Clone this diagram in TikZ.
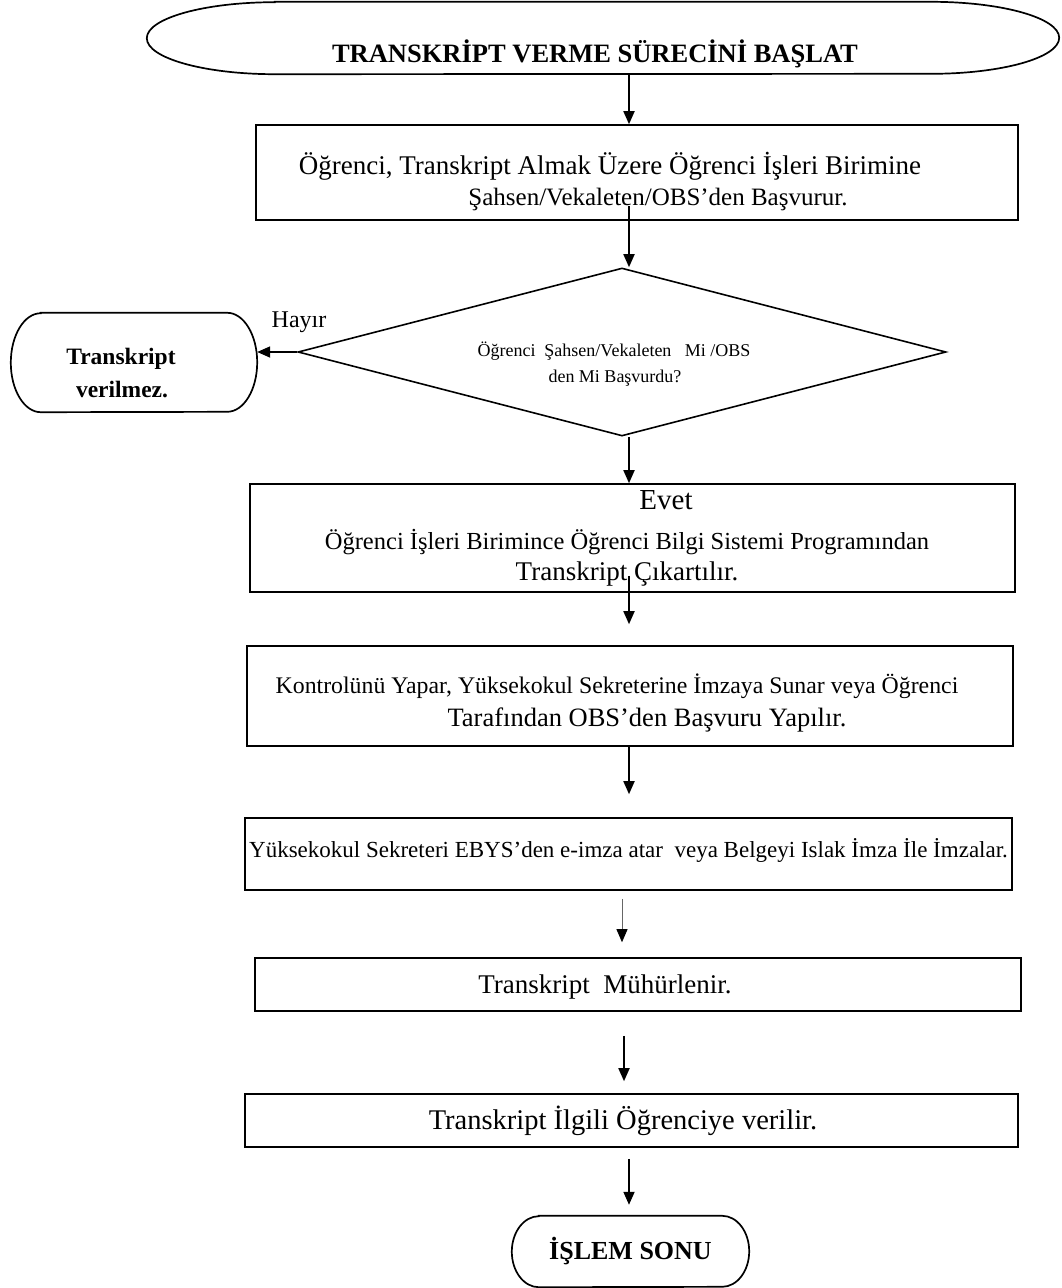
\documentclass[tikz,border=0pt]{standalone}
\usepackage{fontspec}
\setmainfont{Liberation Serif}
\usetikzlibrary{shapes.geometric, arrows.meta, calc}
\newcommand\fsz[2]{\fontsize{#1}{#2}\selectfont}
% one line of a node, moved by (dx, dy) without changing its size
\newcommand\mvln[3]{\raisebox{#2}[\height][\depth]{\hspace*{#1}#3\hspace*{-#1}}}

\begin{document}
\begin{tikzpicture}[
    x=1pt, y=-1pt,
    box/.style={rectangle, draw, line width=1.6pt, inner sep=0pt, align=center},
    term/.style={rectangle, inner sep=0pt, align=center},
    frame/.style={line width=1.7pt},
    decision/.style={diamond, draw, line width=1.6pt, inner sep=0pt, align=center, aspect=3.86},
    arr/.style={line width=1.8pt, -{Triangle[length=13pt,width=11pt]}},
    thinarr/.style={line width=0.8pt, draw=black!60, -{Triangle[length=13pt,width=11pt,color=black]}}
]
    \useasboundingbox (0,0) rectangle (1061,1288);
    \coordinate (ax) at (629,0);

    % Start
    \node[term, minimum width=912, minimum height=72, font=\fsz{26.5}{32}\bfseries] (start) at (603,38)
        {\mvln{-8pt}{-16pt}{TRANSKRİPT VERME SÜRECİNİ BAŞLAT}};
    \draw[frame] ([xshift=128pt]start.north west) -- ([xshift=-128pt]start.north east)
        arc[start angle=90, end angle=-90, x radius=128pt, y radius=36pt]
        -- ([xshift=128pt]start.south west)
        arc[start angle=270, end angle=90, x radius=128pt, y radius=36pt] -- cycle;

    % Steps
    \node[box, minimum width=762, minimum height=95, font=\fsz{27}{31}] (b1) at (637,172.5)
        {\mvln{-27pt}{-9pt}{Öğrenci, Transkript Almak Üzere Öğrenci İşleri Birimine}\\
         {\fsz{25}{31}\mvln{21pt}{-9pt}{Şahsen/Vekaleten/OBS’den Başvurur.}}};

    \node[decision, minimum width=648, minimum height=168, font=\fsz{18}{26}] (dec) at (622,352)
        {\mvln{-8pt}{-12pt}{Öğrenci\ \ Şahsen/Vekaleten\ \ \ Mi /OBS}\\
         \mvln{-7pt}{-12pt}{den Mi Başvurdu?}};

    \node[term, minimum width=246, minimum height=99, font=\fsz{23.5}{33}\bfseries] (no) at (134,362.5)
        {\mvln{-13pt}{-11pt}{Transkript}\\ \mvln{-12pt}{-11pt}{verilmez.}};
    \draw[frame] ([xshift=30pt]no.north west) -- ([xshift=-30pt]no.north east)
        arc[start angle=90, end angle=-90, x radius=30pt, y radius=49.5pt]
        -- ([xshift=30pt]no.south west)
        arc[start angle=270, end angle=90, x radius=30pt, y radius=49.5pt] -- cycle;

    \node[font=\fsz{24}{28}] (hayir) at (299,322) {Hayır};

    \node[box, minimum width=765, minimum height=108, font=\fsz{27}{31}] (b2) at (632.5,538)
        {{\fsz{29}{31}\mvln{33.5pt}{0pt}{Evet}}\\[9pt]
         {\fsz{24.5}{31}\mvln{-5.5pt}{0pt}{Öğrenci İşleri Birimince Öğrenci Bilgi Sistemi Programından}}\\
         \mvln{-5.5pt}{0pt}{Transkript\ Çıkartılır.}};

    \node[box, minimum width=766, minimum height=100, font=\fsz{26.5}{33}] (b3) at (630,696)
        {{\fsz{23.8}{33}\mvln{-13pt}{-7pt}{Kontrolünü Yapar, Yüksekokul Sekreterine İmzaya Sunar veya Öğrenci}}\\
         \mvln{17pt}{-7pt}{Tarafından OBS’den Başvuru Yapılır.}};

    \node[box, minimum width=767, minimum height=72, font=\fsz{23}{28}] (b4) at (628.5,854)
        {\mvln{0pt}{4pt}{Yüksekokul Sekreteri EBYS’den e-imza atar\ \ veya Belgeyi Islak İmza İle İmzalar.}};

    \node[box, minimum width=766, minimum height=53, font=\fsz{27}{32}] (b5) at (638,984.5)
        {\mvln{-33pt}{-2pt}{Transkript\ \ Mühürlenir.}};

    \node[box, minimum width=773, minimum height=53, font=\fsz{28.5}{34}] (b6) at (631.5,1120.5)
        {\mvln{-8.5pt}{0pt}{Transkript İlgili Öğrenciye verilir.}};

    % End
    \node[term, minimum width=237, minimum height=71, font=\fsz{26}{31}\bfseries] (fin) at (630.5,1251.5)
        {İŞLEM SONU};
    \draw[frame] ([xshift=27pt]fin.north west) -- ([xshift=-27pt]fin.north east)
        arc[start angle=90, end angle=-90, x radius=27pt, y radius=35.5pt]
        -- ([xshift=27pt]fin.south west)
        arc[start angle=270, end angle=90, x radius=27pt, y radius=35.5pt] -- cycle;

    % Connections
    \draw[arr] (start.south -| ax) -- (b1.north -| ax);
    \draw[arr] ([yshift=15pt]b1.south -| ax) -- (dec.north -| ax);
    \draw[arr] (dec.west) -- (dec.west -| no.east);
    \draw[arr] (dec.south -| ax) -- (b2.north -| ax);
    \draw[arr] ([yshift=17pt]b2.south -| ax) -- ([yshift=21pt]b3.north -| ax);
    \draw[arr] (b3.south -| ax) -- ([yshift=23pt]b4.north -| ax);
    \draw[thinarr] ([shift={(-7pt,-8pt)}]b4.south -| ax) -- ([shift={(-7pt,15pt)}]b5.north -| ax);
    \draw[arr] ([shift={(-5pt,-24pt)}]b5.south -| ax) -- ([shift={(-5pt,12pt)}]b6.north -| ax);
    \draw[arr] ([yshift=-11pt]b6.south -| ax) -- ([yshift=11pt]fin.north -| ax);
\end{tikzpicture}
\end{document}
